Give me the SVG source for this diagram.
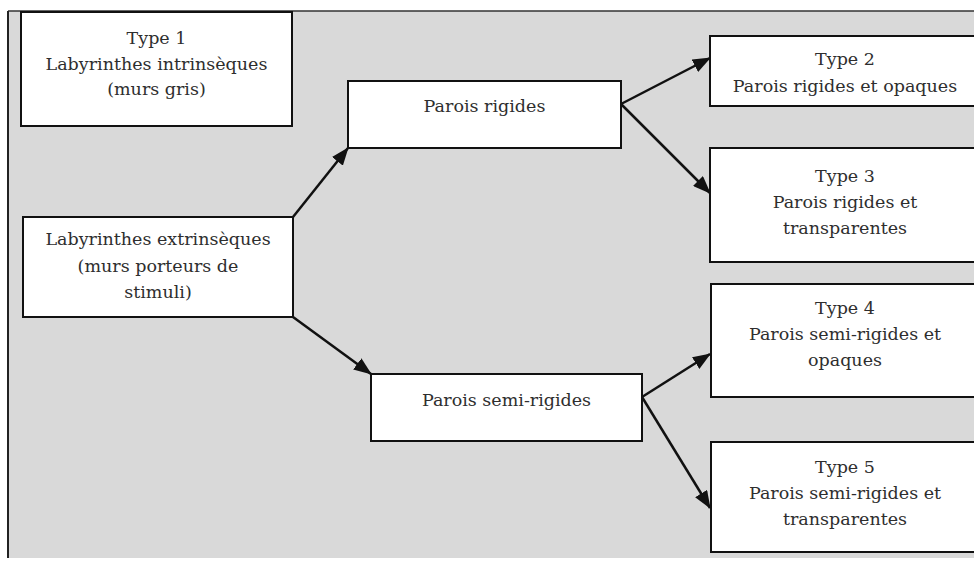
<svg xmlns="http://www.w3.org/2000/svg" width="974" height="562" viewBox="0 0 974 562">
  <defs>
    <marker id="arrow" markerUnits="userSpaceOnUse" markerWidth="18" markerHeight="14" refX="17" refY="7" orient="auto">
      <path d="M0,0 L18,7 L0,14 z" fill="#111"/>
    </marker>
  </defs>
  <style>
    .box { fill: #ffffff; stroke: #111; stroke-width: 2; }
    .lbl { font-family: "DejaVu Serif", "Liberation Serif", serif; font-size: 17.5px; fill: #2e2e2e; text-anchor: middle; }
    .conn { stroke: #111; stroke-width: 2.5; fill: none; marker-end: url(#arrow); }
  </style>
  <rect x="0" y="0" width="974" height="562" fill="#ffffff"/>
  <rect x="8" y="11" width="970" height="547" fill="#d9d9d9"/>
  <line x1="8" y1="11" x2="974" y2="11" stroke="#333" stroke-width="1.5"/>
  <line x1="8" y1="11" x2="8" y2="558" stroke="#222" stroke-width="2"/>

  <g id="connectors">
    <line class="conn" x1="293" y1="217" x2="348" y2="148"/>
    <line class="conn" x1="293" y1="317" x2="371" y2="374"/>
    <line class="conn" x1="621" y1="104" x2="710" y2="58"/>
    <line class="conn" x1="621" y1="104" x2="710" y2="193"/>
    <line class="conn" x1="642" y1="397" x2="710" y2="354"/>
    <line class="conn" x1="642" y1="397" x2="710" y2="508"/>
  </g>

  <g id="type1">
    <rect class="box" x="21" y="12" width="271" height="114"/>
    <text class="lbl" x="156.5" y="44">Type 1</text>
    <text class="lbl" x="156.5" y="70">Labyrinthes intrinsèques</text>
    <text class="lbl" x="156.5" y="95">(murs gris)</text>
  </g>

  <g id="extrinseques">
    <rect class="box" x="23" y="217" width="270" height="100"/>
    <text class="lbl" x="158" y="245">Labyrinthes extrinsèques</text>
    <text class="lbl" x="158" y="272">(murs porteurs de</text>
    <text class="lbl" x="158" y="298">stimuli)</text>
  </g>

  <g id="parois-rigides">
    <rect class="box" x="348" y="81" width="273" height="67"/>
    <text class="lbl" x="484.5" y="112">Parois rigides</text>
  </g>

  <g id="parois-semi-rigides">
    <rect class="box" x="371" y="374" width="271" height="67"/>
    <text class="lbl" x="506.5" y="406">Parois semi-rigides</text>
  </g>

  <g id="type2">
    <rect class="box" x="710" y="36" width="270" height="70"/>
    <text class="lbl" x="845" y="65">Type 2</text>
    <text class="lbl" x="845" y="92">Parois rigides et opaques</text>
  </g>

  <g id="type3">
    <rect class="box" x="710" y="148" width="270" height="114"/>
    <text class="lbl" x="845" y="182">Type 3</text>
    <text class="lbl" x="845" y="208">Parois rigides et</text>
    <text class="lbl" x="845" y="234">transparentes</text>
  </g>

  <g id="type4">
    <rect class="box" x="711" y="284" width="270" height="113"/>
    <text class="lbl" x="845" y="314">Type 4</text>
    <text class="lbl" x="845" y="340">Parois semi-rigides et</text>
    <text class="lbl" x="845" y="366">opaques</text>
  </g>

  <g id="type5">
    <rect class="box" x="711" y="442" width="270" height="110"/>
    <text class="lbl" x="845" y="473">Type 5</text>
    <text class="lbl" x="845" y="499">Parois semi-rigides et</text>
    <text class="lbl" x="845" y="525">transparentes</text>
  </g>
</svg>
